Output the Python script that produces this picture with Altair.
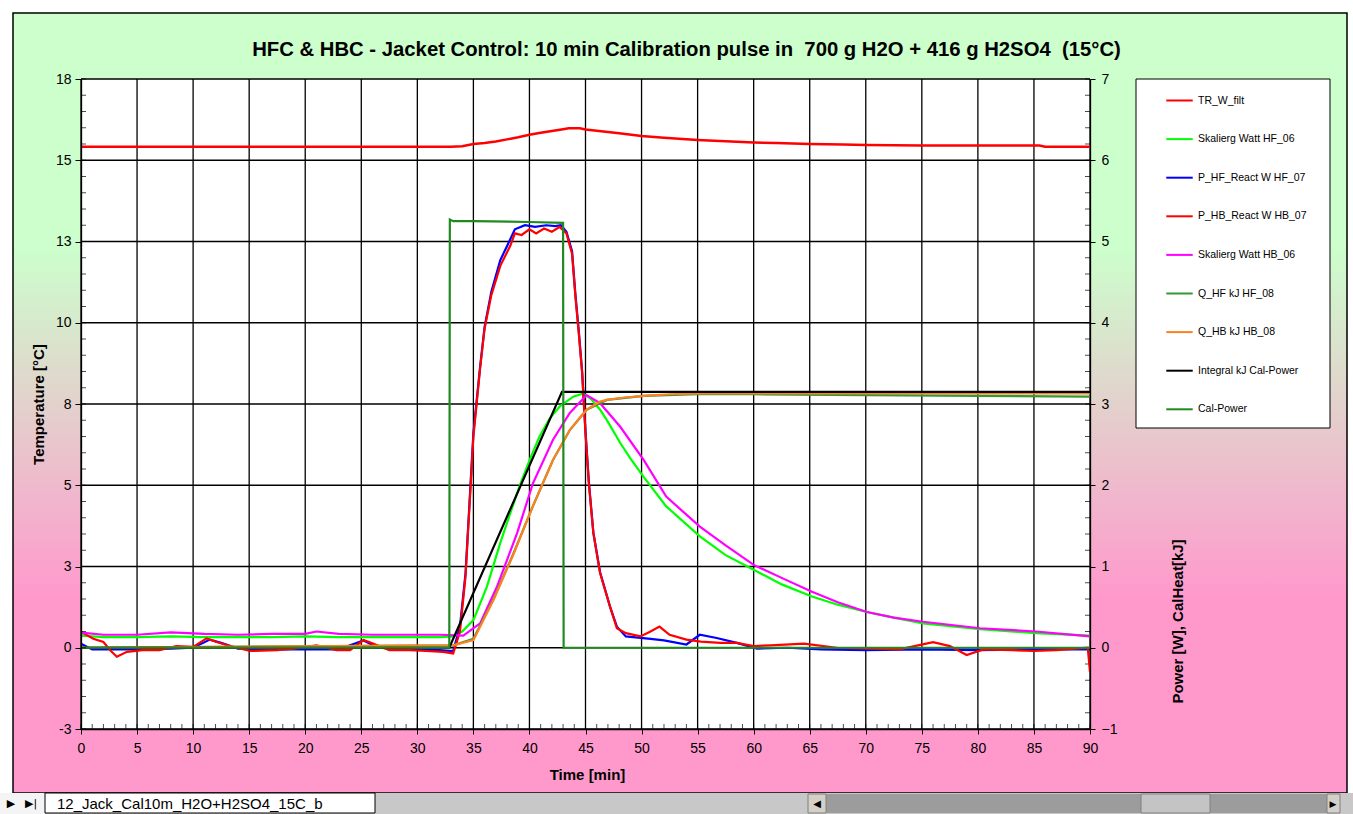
import json
import altair as alt
import pandas as pd

W, H = 1009, 650

title_text = "HFC & HBC - Jacket Control: 10 min Calibration pulse in \u00a0700 g H2O + 416 g H2SO4 \u00a0(15°C)"
sheet_tab = "12_Jack_Cal10m_H2O+H2SO4_15C_b"

series_names = ["TR_W_filt", "Skalierg Watt HF_06", "P_HF_React W HF_07", "P_HB_React W HB_07",
                "Skalierg Watt HB_06", "Q_HF kJ HF_08", "Q_HB kJ HB_08", "Integral kJ Cal-Power", "Cal-Power"]
series_colors = ["#ff0000", "#00ff00", "#0000ff", "#ff0000", "#ff00ff", "#339933", "#ff8020", "#000000", "#208a20"]

x_ticks = list(range(0, 91, 5))
x_minor = list(range(0, 91, 1))
left_tick_values = [-3, -0.375, 2.25, 4.875, 7.5, 10.125, 12.75, 15.375, 18]
left_tick_labels = ["-3", "0", "3", "5", "8", "10", "13", "15", "18"]
left_minor = [round(-3 + k * 0.525, 3) for k in range(41)]
right_ticks = [-1, 0, 1, 2, 3, 4, 5, 6, 7]
right_minor = [round(-1 + k * 0.2, 2) for k in range(41)]

# --- series (time in min) ---
tr_t = [0, 33, 34, 35, 36, 37, 38, 39, 40, 41, 42, 43, 43.5, 44.5, 45, 46, 47, 48, 50, 52, 55, 58, 60, 62, 65, 68, 70, 75, 80, 85.5, 86, 90]
tr_v = [15.81, 15.81, 15.83, 15.9, 15.93, 15.98, 16.05, 16.12, 16.2, 16.26, 16.32, 16.38, 16.41, 16.41, 16.37, 16.33, 16.29, 16.25, 16.16, 16.1, 16.03, 15.98, 15.95, 15.93, 15.9, 15.88, 15.87, 15.85, 15.85, 15.85, 15.81, 15.81]

hf06_t = [0, 2, 5, 8, 11, 14, 17, 20, 23, 26, 29, 32, 33.2, 34, 35, 36.2, 37.4, 38.3, 39.2, 40.1, 40.9, 41.8, 42.7, 43.9, 44.8, 45.5, 46.3, 47, 48.1, 49, 50.2, 52.2, 55.2, 57.5, 60, 62.5, 65.2, 67.5, 70.1, 72.5, 75.1, 80.2, 85.2, 90]
hf06_v = [0.15, 0.13, 0.13, 0.14, 0.13, 0.13, 0.13, 0.14, 0.13, 0.13, 0.13, 0.13, 0.14, 0.2, 0.34, 0.75, 1.29, 1.66, 2.02, 2.34, 2.6, 2.82, 2.97, 3.09, 3.13, 3.06, 2.93, 2.78, 2.52, 2.33, 2.1, 1.74, 1.37, 1.14, 0.96, 0.78, 0.63, 0.53, 0.44, 0.37, 0.30, 0.23, 0.18, 0.15]

phf_t = [0, 1, 3, 5, 8, 10, 11.5, 12.5, 14, 17, 20, 23, 25.2, 26.5, 29, 32, 33.2, 33.8, 34.3, 34.7, 35.0, 35.3, 35.6, 36.0, 36.6, 37.4, 38.3, 38.7, 39.6, 40.5, 41.5, 42.3, 42.8, 43.3, 43.8, 44.1, 44.4, 44.7, 45.0, 45.3, 45.7, 46.3, 47.2, 47.8, 48.6, 50.8, 52, 54, 55.2, 56.7, 58.5, 60.3, 63, 66, 70, 75, 80, 85, 90]
phf_v = [0.05, -0.02, -0.02, -0.02, -0.01, 0.0, 0.1, 0.06, -0.01, -0.02, -0.02, -0.02, 0.09, 0.0, -0.02, -0.03, -0.04, 0.26, 0.92, 1.9, 2.64, 3.05, 3.46, 3.95, 4.38, 4.77, 5.03, 5.15, 5.2, 5.18, 5.2, 5.19, 5.2, 5.12, 4.88, 4.35, 3.9, 3.4, 2.66, 2.04, 1.42, 0.93, 0.5, 0.26, 0.14, 0.11, 0.09, 0.04, 0.16, 0.12, 0.06, -0.01, 0.0, -0.02, -0.03, -0.02, -0.03, -0.02, -0.02]

phb_t = [0, 0.2, 1.1, 2, 2.6, 3.2, 4.1, 5.5, 7, 8.5, 10, 11.2, 12.1, 13.6, 15.1, 17.5, 19, 21, 22.8, 24, 25.2, 26.1, 27.5, 29.3, 30.8, 32.3, 33.2, 33.8, 34.3, 34.7, 35.0, 35.3, 35.6, 36.0, 36.6, 37.4, 38.3, 38.7, 39.3, 40, 40.6, 41.3, 42, 42.7, 43.3, 43.8, 44.1, 44.4, 44.7, 45.0, 45.3, 45.7, 46.3, 47.2, 47.8, 48.6, 49.9, 50.8, 51.6, 52.5, 54, 55.3, 57, 58.5, 60, 61.5, 64.5, 67.4, 70.4, 73, 76, 77.5, 79, 80.5, 83, 85, 87, 89.8, 90]
phb_v = [0.2, 0.18, 0.11, 0.07, -0.03, -0.11, -0.05, -0.03, -0.03, 0.02, 0.01, 0.115, 0.07, 0.01, -0.04, -0.03, -0.01, 0.03, -0.03, -0.03, 0.095, 0.05, -0.03, -0.03, -0.04, -0.05, -0.07, 0.2, 0.88, 1.86, 2.6, 3.02, 3.44, 3.93, 4.34, 4.7, 4.95, 5.1, 5.08, 5.15, 5.1, 5.16, 5.12, 5.18, 5.1, 4.85, 4.32, 3.87, 3.38, 2.64, 2.02, 1.41, 0.92, 0.5, 0.24, 0.18, 0.14, 0.2, 0.26, 0.16, 0.1, 0.075, 0.06, 0.06, 0.02, 0.03, 0.05, 0.0, -0.01, -0.02, 0.07, 0.02, -0.09, -0.02, -0.03, -0.04, -0.03, 0.0, -0.3]

hb06_t = [0, 0.5, 2, 5, 8, 11, 14, 17, 20, 21, 23, 26, 29, 32, 34.1, 35.6, 37.1, 38.9, 40.3, 42.1, 43.6, 45.1, 46.3, 48.1, 50.2, 52.2, 55.2, 57.5, 60, 62.5, 65.2, 67.5, 70.1, 72.5, 75.1, 80.2, 85.2, 90]
hb06_v = [0.18, 0.18, 0.16, 0.16, 0.19, 0.17, 0.16, 0.17, 0.17, 0.2, 0.17, 0.16, 0.16, 0.16, 0.15, 0.3, 0.75, 1.41, 2.02, 2.56, 2.89, 3.11, 3.01, 2.72, 2.31, 1.86, 1.49, 1.26, 1.02, 0.86, 0.69, 0.56, 0.44, 0.37, 0.32, 0.24, 0.2, 0.14]

qhf_t = [0, 33.2, 35, 36.8, 38.6, 40.3, 42.1, 43.6, 45.1, 46.9, 50.2, 55, 60, 70, 80, 90]
qhf_v = [0, 0.03, 0.11, 0.6, 1.17, 1.74, 2.31, 2.68, 2.93, 3.05, 3.1, 3.12, 3.12, 3.11, 3.1, 3.09]

qhb_t = [0, 33.2, 35, 36.8, 38.6, 40.3, 42.1, 43.6, 45.1, 46.3, 46.9, 48.5, 50.2, 52.5, 55.2, 60, 70, 80, 90]
qhb_v = [0, 0.03, 0.095, 0.59, 1.16, 1.74, 2.31, 2.68, 2.93, 3.03, 3.05, 3.08, 3.1, 3.12, 3.13, 3.13, 3.13, 3.13, 3.13]

int_t = [0, 32.85, 42.9, 90]
int_v = [0, 0, 3.15, 3.15]

cal_t = [0, 32.85, 32.9, 33.2, 35, 40, 43.0, 43.05, 90]
cal_v = [0, 0, 5.27, 5.25, 5.25, 5.24, 5.23, 0, 0]

right_series = [
    ("Skalierg Watt HF_06", hf06_t, hf06_v),
    ("P_HF_React W HF_07", phf_t, phf_v),
    ("P_HB_React W HB_07", phb_t, phb_v),
    ("Skalierg Watt HB_06", hb06_t, hb06_v),
    ("Q_HF kJ HF_08", qhf_t, qhf_v),
    ("Q_HB kJ HB_08", qhb_t, qhb_v),
    ("Integral kJ Cal-Power", int_t, int_v),
    ("Cal-Power", cal_t, cal_v),
]

FONT = "Liberation Sans"

x_scale = alt.Scale(domain=[0, 90], nice=False, zero=False)
ry_scale = alt.Scale(domain=[-1, 7], nice=False, zero=False)
ly_scale = alt.Scale(domain=[-3, 18], nice=False, zero=False)

x_axis = alt.Axis(values=x_ticks, grid=False, tickSize=5, labelPadding=7, title="Time [min]",
                  titleX=506, titleY=45, titleAlign="center", titleBaseline="middle",
                  labelFlush=False, zindex=1)
r_axis = alt.Axis(orient="right", values=right_ticks, format="d", grid=False, tickSize=5, labelPadding=6,
                  title="Power [W], CalHeat[kJ]", titleAngle=270, titleAlign="center",
                  titleBaseline="middle", titleX=87, titleY=542, labelFlush=False, zindex=1)
l_axis = alt.Axis(orient="left", values=left_tick_values, grid=False, tickSize=6, labelPadding=4,
                  labelExpr=json.dumps(left_tick_labels) + "[round((datum.value + 3) / 2.625)]",
                  title="Temperature [°C]", titleAngle=270, titleAlign="center", titleBaseline="middle",
                  titleX=-43, titleY=325, labelFlush=False, zindex=1)

legend = alt.Legend(title=None, orient="none", legendX=1055, legendY=0, symbolType="stroke",
                    symbolSize=700, symbolStrokeWidth=2, labelFontSize=10.5, labelFont=FONT,
                    labelColor="black", rowPadding=18.6, padding=7, symbolOffset=22, labelOffset=4,
                    labelLimit=200, zindex=1)
color = alt.Color("series:N", scale=alt.Scale(domain=series_names, range=series_colors), legend=legend)

one = pd.DataFrame({"a": [0]})


def box(x1, x2, y1, y2, **kw):
    return alt.Chart(one).mark_rect(**kw).encode(
        x=alt.value(x1 - 81), x2=alt.value(x2 - 81), y=alt.value(y1 - 79), y2=alt.value(y2 - 79))


def label(x, y, txt, **kw):
    return alt.Chart(one).mark_text(**kw).encode(
        x=alt.value(x - 81), y=alt.value(y - 79), text=alt.value(txt))


gradient = alt.Gradient(gradient="linear", x1=0, x2=0, y1=0, y2=1, stops=[
    alt.GradientStop(color="#ccffcc", offset=0),
    alt.GradientStop(color="#ccffcc", offset=0.3),
    alt.GradientStop(color="#ff99cc", offset=0.75),
    alt.GradientStop(color="#ff99cc", offset=1),
])

bg = alt.layer(
    box(13, 1347, 13, 793, fill=gradient, stroke="black", strokeWidth=1.5),
    box(81, 1090, 79, 729, fill="white"),
    box(1136, 1330, 79, 428, fill="white", stroke="black", strokeWidth=1),
    box(0, 1353, 793, 814, fill="#c8c8c8"),
    box(0, 45, 793, 814, fill="#f4f4f4"),
    label(11, 804, "▶", fontSize=11, color="black", font="DejaVu Sans"),
    label(31, 804, "▶|", fontSize=11, color="black", font="DejaVu Sans"),
    box(45, 375, 793, 813, fill="white", stroke="black", strokeWidth=1),
    label(57, 804, sheet_tab, fontSize=15, align="left", baseline="middle", color="black", font=FONT),
    box(808, 1340, 794, 813, fill="#9c9c9c"),
    box(808, 826, 794, 813, fill="#d4d0c8", stroke="#808080"),
    label(817, 804, "◀", fontSize=10, color="black", font="DejaVu Sans"),
    box(1141, 1210, 794, 813, fill="#c4c4c4", stroke="#808080"),
    box(1327, 1340, 794, 813, fill="#d4d0c8", stroke="#808080"),
    label(1333, 804, "▶", fontSize=9, color="black", font="DejaVu Sans"),
)

vgrid = alt.Chart(pd.DataFrame({"t": x_ticks})).mark_rule(color="black", strokeWidth=1.3).encode(
    x=alt.X("t:Q", scale=x_scale, axis=x_axis), y=alt.value(0), y2=alt.value(H))
hgrid = alt.Chart(pd.DataFrame({"v": right_ticks})).mark_rule(color="black", strokeWidth=1.3).encode(
    y=alt.Y("v:Q", scale=ry_scale, axis=r_axis), x=alt.value(0), x2=alt.value(W))
xminor = alt.Chart(pd.DataFrame({"t": x_minor})).mark_tick(color="black", thickness=1, size=5, orient="vertical").encode(
    x=alt.X("t:Q", scale=x_scale, axis=x_axis), y=alt.value(H - 2.5))
rminor = alt.Chart(pd.DataFrame({"v": right_minor})).mark_tick(color="black", thickness=1, size=5, orient="horizontal").encode(
    y=alt.Y("v:Q", scale=ry_scale, axis=r_axis), x=alt.value(W - 2.5))

series_layers = []
for name, ts, vs in right_series:
    d = pd.DataFrame({"t": ts, "v": vs, "series": name})
    series_layers.append(
        alt.Chart(d).mark_line(strokeWidth=2.2, clip=True).encode(
            x=alt.X("t:Q", scale=x_scale, axis=x_axis),
            y=alt.Y("v:Q", scale=ry_scale, axis=r_axis),
            color=color,
        )
    )

right = alt.layer(vgrid, hgrid, xminor, rminor, *series_layers)

tr_df = pd.DataFrame({"t": tr_t, "v": tr_v, "series": "TR_W_filt"})
tr_line = alt.Chart(tr_df).mark_line(strokeWidth=2.5, clip=True).encode(
    x=alt.X("t:Q", scale=x_scale, axis=x_axis),
    y=alt.Y("v:Q", scale=ly_scale, axis=l_axis),
    color=color,
)
lminor = alt.Chart(pd.DataFrame({"v": left_minor})).mark_tick(color="black", thickness=1, size=5, orient="horizontal").encode(
    y=alt.Y("v:Q", scale=ly_scale, axis=l_axis), x=alt.value(2.5))
left = alt.layer(lminor, tr_line)

chart = alt.layer(bg, right, left).resolve_scale(y="independent").properties(
    width=W, height=H,
    autosize=alt.AutoSizeParams(type="none"),
    padding={"left": 81, "top": 79, "right": 263, "bottom": 85},
    background="white",
    title=alt.TitleParams(text=title_text, font=FONT, fontSize=20.3, fontWeight="bold", color="black",
                          anchor="middle", frame="group", dx=101, offset=14, dy=78, baseline="alphabetic"),
).configure_axis(
    labelFont=FONT, titleFont=FONT, labelFontSize=14, titleFontSize=15, titleFontWeight="bold",
    labelColor="black", titleColor="black", domainColor="black", tickColor="black",
    domainWidth=1.3, tickWidth=1,
).configure_view(stroke=None)

chart.save("out.html", embed_options={"renderer": "svg", "actions": False})
